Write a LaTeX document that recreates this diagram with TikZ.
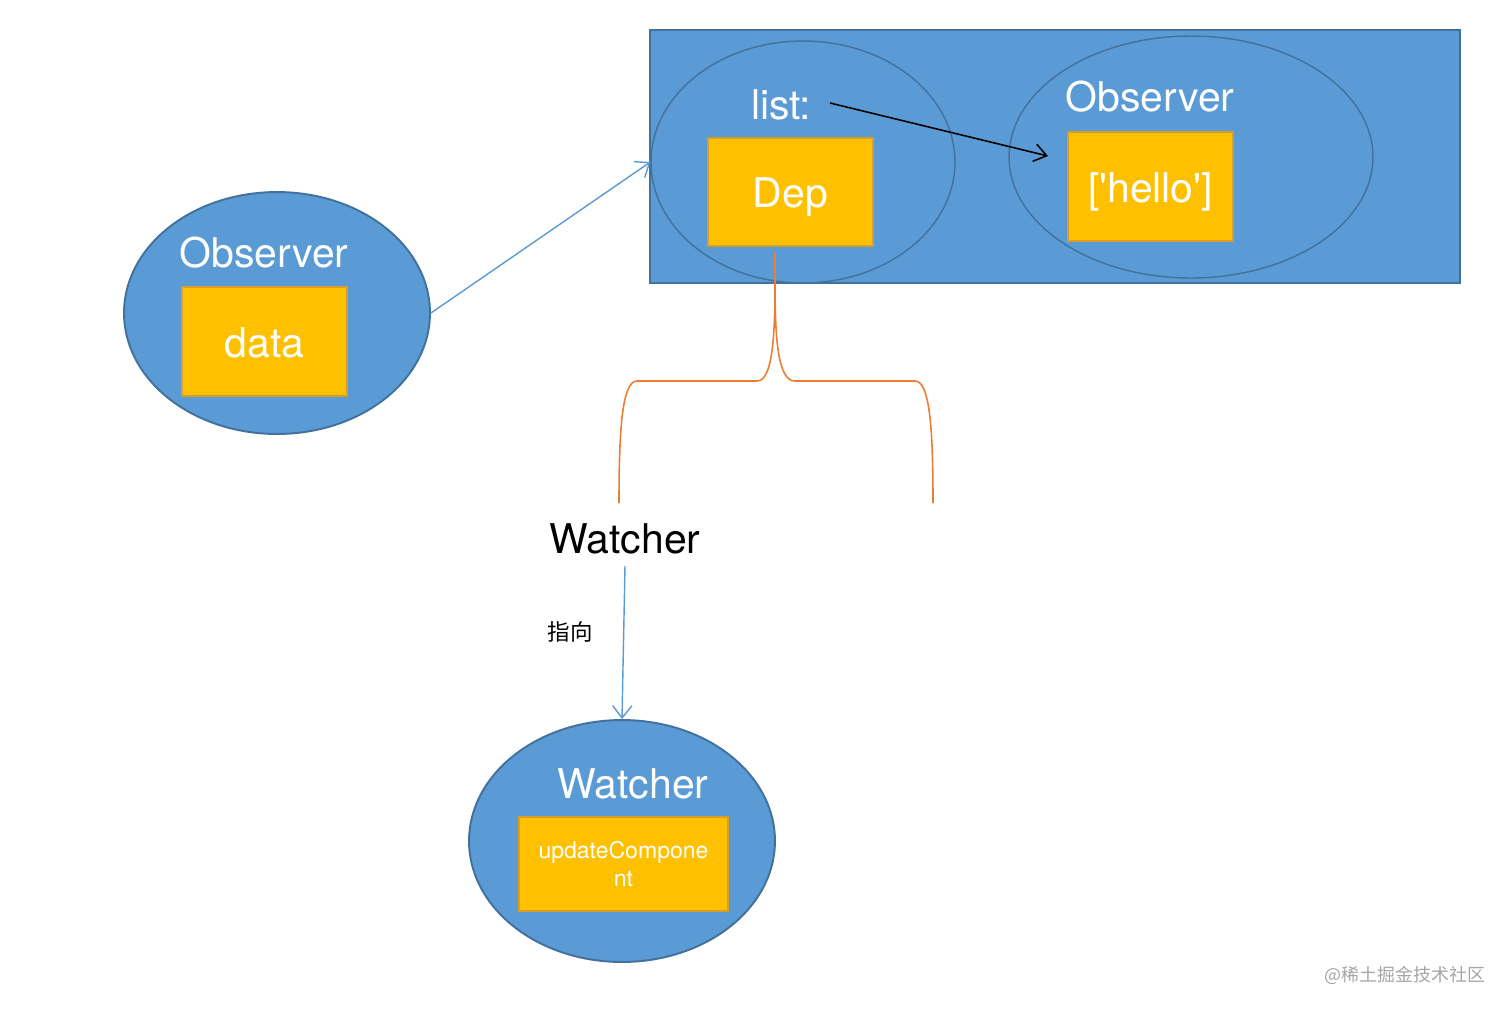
\documentclass[tikz,border=0pt]{standalone}
\usepackage{fontspec}
\setmainfont{TeX Gyre Heros}
\newfontfamily\cjkfont{Noto Sans CJK SC}
\usetikzlibrary{shapes.geometric,arrows.meta}
\definecolor{cellblue}{RGB}{91,155,213}
\definecolor{rimblue}{RGB}{65,113,156}
\definecolor{slotgold}{RGB}{255,192,0}
\definecolor{slotrim}{RGB}{214,160,40}
\definecolor{braceorange}{RGB}{237,125,49}
\definecolor{markgray}{RGB}{165,165,165}
\begin{document}
\begin{tikzpicture}[x=0.02cm,y=-0.02cm,
  blob/.style={ellipse,draw=rimblue,line width=1.1pt,fill=cellblue,inner sep=0pt},
  ring/.style={ellipse,draw=rimblue,line width=0.8pt,inner sep=0pt},
  slot/.style={rectangle,draw=slotrim,line width=1.1pt,fill=slotgold,text=white,inner sep=0pt},
  bigslot/.style={slot,font=\fontsize{23.3}{28}\selectfont,text height=20pt,text depth=2pt},
  wlabel/.style={text=white,anchor=base,inner sep=0pt,font=\fontsize{23.3}{28}\selectfont},
  link/.style={cellblue,line width=0.8pt,-{Straight Barb[length=7pt,width=11pt]}}]
\useasboundingbox (0,0) rectangle (1512,1012);
\node [blob,minimum width=6.12cm,minimum height=4.84cm] (obsL) at (277,313) {};
\node [wlabel] (obsLlbl) at (264,267) {Observer};
\node [bigslot,minimum width=3.3cm,minimum height=2.18cm] (data) at (264.5,341.5) {data};
\node [rectangle,draw=rimblue,line width=1.1pt,fill=cellblue,minimum width=16.2cm,minimum height=5.06cm] (panel) at (1055,156.5) {};
\node [ring,minimum width=6.08cm,minimum height=4.84cm] (listell) at (803,162) {};
\node [ring,minimum width=7.28cm,minimum height=4.84cm] (helloell) at (1191,157) {};
\node [wlabel] (list) at (781,119) {list:};
\node [bigslot,minimum width=3.3cm,minimum height=2.16cm] (dep) at (790.5,192) {Dep};
\node [wlabel] (obsRlbl) at (1150,111) {Observer};
\node [bigslot,minimum width=3.3cm,minimum height=2.18cm] (hello) at (1150.5,186.5) {[\textquotesingle hello\textquotesingle]};
\coordinate (hellotip) at (1048,156);
\draw [black,line width=0.9pt,-{Straight Barb[length=7pt,width=10pt]}] (830,103) -- (hellotip);
\draw [link] (obsL.east) -- (listell.west);
\coordinate (bracetop) at (775,253);
\coordinate (braceL) at (619,503);
\coordinate (braceR) at (933,503);
\draw [braceorange,line width=0.9pt] (bracetop) -- (775,283) .. controls (775,340) and (772,381) .. (757,381) -- (637,381) .. controls (622,381) and (619,430) .. (braceL);
\draw [braceorange,line width=0.9pt] (775,283) .. controls (775,340) and (778,381) .. (795,381) -- (915,381) .. controls (930,381) and (933,430) .. (braceR);
\node [anchor=base,inner sep=0pt,font=\fontsize{23.3}{28}\selectfont] (watchlbl) at (625,553) {Watcher};
\node [blob,minimum width=6.12cm,minimum height=4.84cm] (watcher) at (622,841) {};
\node [wlabel] (watchin) at (633,798) {Watcher};
\node [slot,minimum width=4.18cm,minimum height=1.88cm,align=center,font=\fontsize{13.1}{15.5}\selectfont] (upd) at (623.5,864) {updateCompone\\nt};
\draw [link] (watchlbl.south) ++(0,12) -- (watcher.north);
\node [font=\cjkfont\fontsize{12.8}{15}\selectfont] (point) at (570,632) {指向};
\node [text=markgray,font=\cjkfont\fontsize{10.2}{12}\selectfont] (mark) at (1405,975) {@稀土掘金技术社区};
\end{tikzpicture}
\end{document}
